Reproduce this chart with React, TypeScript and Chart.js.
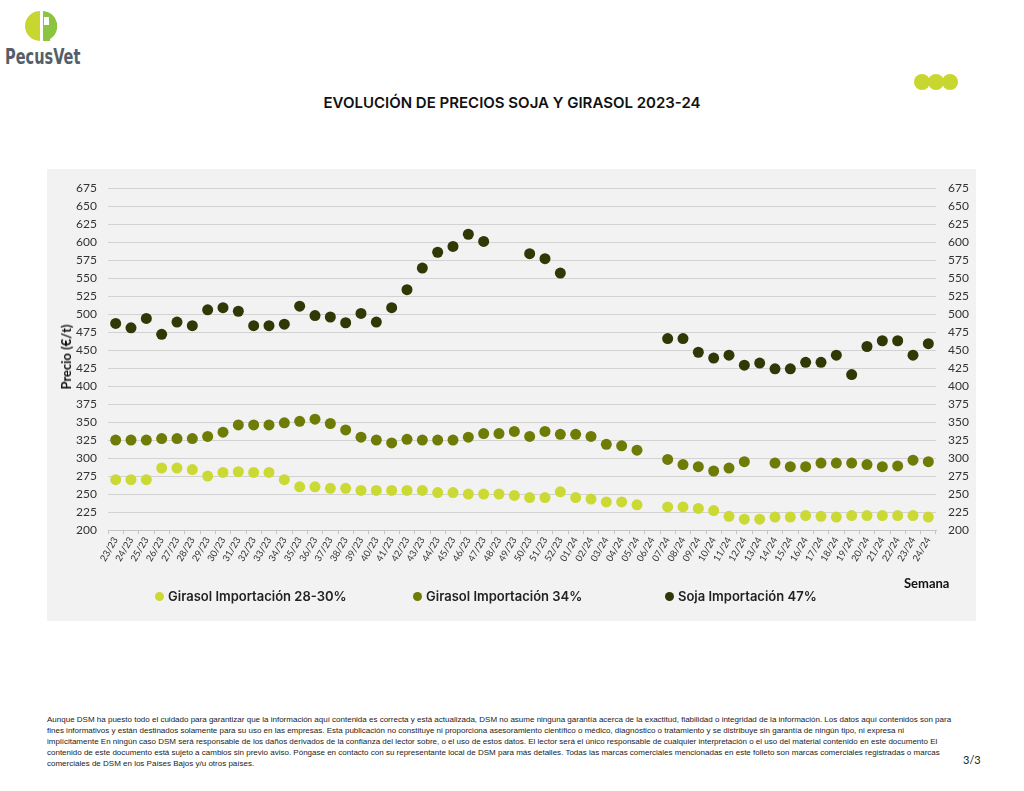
import React, { useEffect, useRef } from "react";
import { Chart, registerables } from "chart.js";
Chart.register(...registerables);

const weeks = [
  "23/23","24/23","25/23","26/23","27/23","28/23","29/23","30/23","31/23","32/23",
  "33/23","34/23","35/23","36/23","37/23","38/23","39/23","40/23","41/23","42/23",
  "43/23","44/23","45/23","46/23","47/23","48/23","49/23","50/23","51/23","52/23",
  "01/24","02/24","03/24","04/24","05/24","06/24","07/24","08/24","09/24","10/24",
  "11/24","12/24","13/24","14/24","15/24","16/24","17/24","18/24","19/24","20/24",
  "21/24","22/24","23/24","24/24",
];

const girasol2830 = [
  270, 270, 270, 286, 286, 284, 275, 280, 281, 280,
  280, 270, 260, 260, 258, 258, 255, 255, 255, 255,
  255, 252, 252, 250, 250, 250, 248, 245, 245, 253,
  245, 243, 239, 239, 235, null, 232, 232, 230, 227,
  219, 215, 215, 218, 218, 220, 219, 218, 220, 220,
  220, 220, 220, 218,
];

const girasol34 = [
  325, 325, 325, 327, 327, 327, 330, 336, 346, 346,
  346, 349, 351, 354, 348, 339, 329, 325, 321, 326,
  325, 325, 325, 329, 334, 334, 337, 330, 337, 333,
  333, 330, 319, 317, 311, null, 298, 291, 288, 282,
  286, 295, null, 293, 288, 288, 293, 293, 293, 291,
  288, 289, 297, 295,
];

const soja47 = [
  487, 481, 494, 472, 489, 484, 506, 509, 504, 484,
  484, 486, 511, 498, 496, 488, 501, 489, 509, 534,
  564, 586, 594, 611, 601, null, null, 584, 577, 557,
  null, null, null, null, null, null, 466, 466, 447, 439,
  443, 429, 432, 424, 424, 433, 433, 443, 416, 455,
  463, 463, 443, 459,
];

const seriesNames = ["Girasol Importación 28-30%", "Girasol Importación 34%", "Soja Importación 47%"];
const seriesColors = ["#cbd935", "#6e7b04", "#2e3906"];

const FONT = "Lato, 'Open Sans', sans-serif";

const footerLines = [
  "Aunque DSM ha puesto todo el cuidado para garantizar que la información aquí contenida es correcta y está actualizada, DSM no asume ninguna garantía acerca de la exactitud, fiabilidad o integridad de la información. Los datos aquí contenidos son para",
  "fines informativos y están destinados solamente para su uso en las empresas. Esta publicación no constituye ni proporciona asesoramiento científico o médico, diagnóstico o tratamiento y se distribuye sin garantía de ningún tipo, ni expresa ni",
  "implícitamente En ningún caso DSM será responsable de los daños derivados de la confianza del lector sobre, o el uso de estos datos. El lector será el único responsable de cualquier interpretación o el uso del material contenido en este documento El",
  "contenido de este documento está sujeto a cambios sin previo aviso. Póngase en contacto con su representante local de DSM para más detalles. Todas las marcas comerciales mencionadas en este folleto son marcas comerciales registradas o marcas",
  "comerciales de DSM en los Países Bajos y/u otros países.",
];

export default function App() {
  const ref = useRef<HTMLCanvasElement>(null);

  useEffect(() => {
    const series = [girasol2830, girasol34, soja47];
    const tickFont = { family: FONT, size: 12 };
    const chart = new Chart(ref.current!, {
      type: "line",
      data: {
        labels: weeks,
        datasets: series.map((d, i) => ({
          label: seriesNames[i],
          data: d,
          showLine: false,
          pointRadius: 5.5,
          pointHoverRadius: 5.5,
          pointBorderWidth: 0,
          pointBackgroundColor: seriesColors[i],
          borderColor: seriesColors[i],
          backgroundColor: seriesColors[i],
        })),
      },
      options: {
        animation: false,
        responsive: false,
        maintainAspectRatio: false,
        layout: { padding: { top: 19, left: 0, right: 0, bottom: 0 } },
        plugins: { legend: { display: false }, tooltip: { enabled: false }, title: { display: false } },
        scales: {
          x: {
            type: "category",
            offset: true,
            grid: { drawOnChartArea: false, drawTicks: true, tickLength: 4, color: "#c4c4c4", offset: true },
            border: { color: "#c4c4c4" },
            ticks: {
              autoSkip: false,
              maxRotation: 60,
              minRotation: 60,
              padding: 1,
              color: "#333",
              font: { family: FONT, size: 9.5 },
            },
            afterFit: (s: any) => { s.height = 91; },
          },
          y: {
            position: "left",
            min: 200,
            max: 675,
            ticks: { stepSize: 25, padding: 11, color: "#333", font: tickFont },
            grid: { color: "#d2d2d2", drawTicks: false, lineWidth: 1 },
            border: { display: false },
            afterFit: (s: any) => { s.width = 61; },
          },
          y2: {
            position: "right",
            min: 200,
            max: 675,
            ticks: { stepSize: 25, padding: 12, color: "#333", font: tickFont },
            grid: { display: false, drawTicks: false },
            border: { display: false },
            afterFit: (s: any) => { s.width = 40; },
          },
        },
      } as any,
    });
    return () => chart.destroy();
  }, []);

  const legendPos = [160, 418, 670];

  return (
    <div style={{ position: "absolute", left: 0, top: 0, width: 1024, height: 791, background: "#fff", fontFamily: FONT, overflow: "hidden" }}>
      {/* Logo */}
      <svg style={{ position: "absolute", left: 0, top: 0 }} width={90} height={50}>
        <path d="M40 11 A15 15 0 0 0 40 41 Z" fill="#c8d630" />
        <path d="M43 11 A15 15 0 0 1 57 23 L57 29 A15 15 0 0 1 50 39 L50 32 L43 32 Z" fill="#8bc43f" />
        <rect x={43} y={32} width={7} height={9} fill="#8bc43f" />
        <rect x={44} y={17} width={5} height={8} fill="#fff" />
      </svg>
      <div style={{ position: "absolute", left: 5, top: 45, fontFamily: "'Liberation Sans Narrow', 'DejaVu Sans Condensed', sans-serif", fontWeight: 700, fontSize: 21, color: "#555e68", transform: "scaleX(0.77)", transformOrigin: "left top", whiteSpace: "nowrap" }}>
        PecusVet
      </div>

      {/* three dots */}
      <svg style={{ position: "absolute", left: 905, top: 70 }} width={60} height={25}>
        <circle cx={17} cy={12} r={8} fill="#c8d630" />
        <circle cx={31} cy={12} r={8} fill="#c8d630" />
        <circle cx={45} cy={12} r={8} fill="#c8d630" />
      </svg>

      {/* title */}
      <div style={{ position: "absolute", left: 0, width: 1024, top: 93, textAlign: "center", fontFamily: "Inter, sans-serif", fontWeight: 600, fontSize: 15, color: "#111" }}>
        EVOLUCIÓN DE PRECIOS SOJA Y GIRASOL 2023-24
      </div>

      {/* panel */}
      <div style={{ position: "absolute", left: 47, top: 169, width: 929, height: 452, background: "#f2f2f2" }} />
      <canvas ref={ref} width={929} height={452} style={{ position: "absolute", left: 47, top: 169, width: 929, height: 452 }} />

      {/* y title */}
      <div style={{ position: "absolute", left: 66, top: 357, transform: "translate(-50%, -50%) rotate(-90deg)", whiteSpace: "nowrap", fontWeight: 700, fontSize: 13, color: "#111" }}>
        Precio (€/t)
      </div>

      {/* x title */}
      <div style={{ position: "absolute", left: 904, top: 575, fontWeight: 700, fontSize: 13, color: "#111" }}>
        Semana
      </div>

      {/* legend */}
      {seriesNames.map((n, i) => (
        <div key={n} style={{ position: "absolute", left: legendPos[i] - 5, top: 588, display: "flex", alignItems: "center", whiteSpace: "nowrap" }}>
          <span style={{ display: "inline-block", width: 9, height: 9, borderRadius: "50%", background: seriesColors[i], marginRight: 4 }} />
          <span style={{ fontFamily: "Inter, sans-serif", fontWeight: 600, fontSize: 13, color: "#222" }}>{n}</span>
        </div>
      ))}

      {/* footer */}
      <div style={{ position: "absolute", left: 47, top: 714, fontFamily: "'Liberation Sans', sans-serif", fontSize: 8, lineHeight: "11px", color: "#222", whiteSpace: "nowrap" }}>
        {footerLines.map((l, i) => (<div key={i}>{l}</div>))}
      </div>
      <div style={{ position: "absolute", left: 963, top: 753, fontSize: 11, color: "#222" }}>3/3</div>
    </div>
  );
}
